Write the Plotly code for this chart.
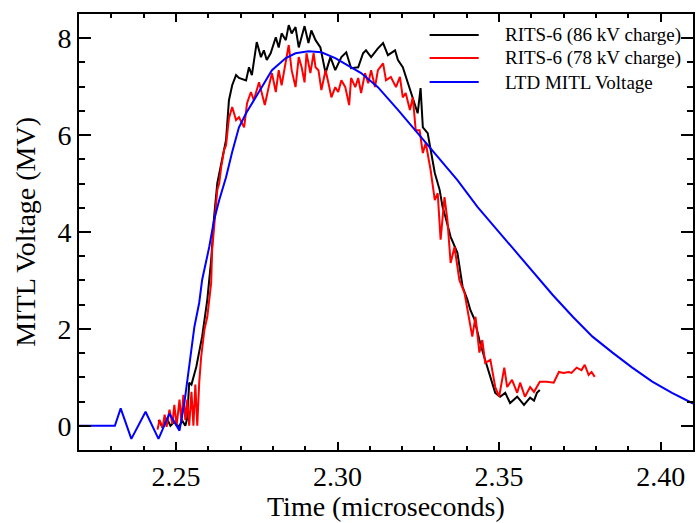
import plotly.graph_objects as go

# ---- RITS-6, 86 kV charge (time in microseconds, voltage in MV) ----
rits86_t = [2.2446, 2.2459, 2.2471, 2.2483, 2.2495, 2.2508, 2.2520, 2.2529, 2.2535,
            2.2541, 2.2548, 2.2563, 2.2581, 2.2597, 2.2609, 2.2618, 2.2628, 2.2640,
            2.2655, 2.2664, 2.2674, 2.2686, 2.2695, 2.2717, 2.2726, 2.2735, 2.2750,
            2.2763, 2.2772, 2.2781, 2.2793, 2.2809, 2.2818, 2.2827, 2.2840, 2.2849,
            2.2858, 2.2870, 2.2880, 2.2898, 2.2910, 2.2919, 2.2932, 2.2947, 2.2963,
            2.2978, 2.2993, 2.3012, 2.3027, 2.3042, 2.3064, 2.3079, 2.3088, 2.3104,
            2.3125, 2.3141, 2.3156, 2.3178, 2.3187, 2.3202, 2.3218, 2.3227, 2.3239,
            2.3248, 2.3257, 2.3264, 2.3279, 2.3288, 2.3301, 2.3316, 2.3325, 2.3334,
            2.3350, 2.3371, 2.3387, 2.3402, 2.3411, 2.3424, 2.3439, 2.3454, 2.3473,
            2.3488, 2.3503, 2.3519, 2.3534, 2.3556, 2.3577, 2.3596, 2.3608, 2.3617,
            2.3626]
rits86_v = [0.12, -0.04, 0.16, 0.00, 0.08, -0.02, 0.10, 0.00, 0.16,
            0.89, 0.85, 1.22, 1.84, 2.60, 3.42, 4.31, 5.01, 5.44,
            5.90, 6.72, 7.03, 7.24, 7.18, 7.13, 7.40, 7.24, 7.92,
            7.61, 7.75, 7.55, 7.69, 8.02, 7.81, 8.10, 7.96, 8.27,
            8.10, 8.23, 7.81, 8.25, 7.90, 8.16, 7.96, 7.81, 7.28,
            7.61, 7.34, 7.61, 7.71, 7.38, 7.40, 7.69, 7.75, 7.61,
            7.79, 7.90, 7.65, 7.75, 7.55, 7.40, 7.07, 6.93, 6.66,
            6.45, 6.97, 6.16, 6.04, 5.69, 5.22, 4.87, 4.52, 4.31,
            3.90, 3.57, 2.87, 2.60, 2.39, 2.19, 1.77, 1.42, 1.01,
            0.68, 0.60, 0.68, 0.47, 0.60, 0.43, 0.58, 0.52, 0.68,
            0.74]

# ---- RITS-6, 78 kV charge ----
rits78_t = [2.2443, 2.2449, 2.2459, 2.2465, 2.2471, 2.2480, 2.2489, 2.2495, 2.2502,
            2.2511, 2.2517, 2.2523, 2.2529, 2.2535, 2.2541, 2.2548, 2.2554, 2.2560,
            2.2566, 2.2572, 2.2578, 2.2588, 2.2597, 2.2609, 2.2612, 2.2621, 2.2628,
            2.2634, 2.2640, 2.2649, 2.2655, 2.2664, 2.2674, 2.2686, 2.2695, 2.2711,
            2.2720, 2.2732, 2.2741, 2.2757, 2.2775, 2.2787, 2.2797, 2.2809, 2.2818,
            2.2827, 2.2840, 2.2849, 2.2858, 2.2870, 2.2880, 2.2889, 2.2898, 2.2904,
            2.2916, 2.2926, 2.2932, 2.2941, 2.2950, 2.2963, 2.2972, 2.2981, 2.2993,
            2.3002, 2.3012, 2.3024, 2.3036, 2.3042, 2.3055, 2.3064, 2.3073, 2.3085,
            2.3095, 2.3104, 2.3116, 2.3125, 2.3141, 2.3150, 2.3165, 2.3181, 2.3193,
            2.3202, 2.3211, 2.3224, 2.3233, 2.3242, 2.3254, 2.3264, 2.3273, 2.3288,
            2.3301, 2.3310, 2.3319, 2.3331, 2.3340, 2.3350, 2.3362, 2.3377, 2.3393,
            2.3408, 2.3417, 2.3427, 2.3439, 2.3448, 2.3457, 2.3473, 2.3488, 2.3500,
            2.3516, 2.3525, 2.3540, 2.3556, 2.3565, 2.3580, 2.3596, 2.3608, 2.3626,
            2.3648, 2.3669, 2.3685, 2.3700, 2.3715, 2.3724, 2.3740, 2.3755, 2.3765,
            2.3777, 2.3786, 2.3796]
rits78_v = [-0.08, 0.12, -0.04, 0.23, -0.02, 0.33, 0.04, 0.43, 0.00,
            0.54, 0.08, 0.64, 0.12, 0.54, 0.00, 0.70, 0.00, 0.85,
            0.00, 0.89, 1.42, 1.98, 2.25, 2.95, 3.63, 4.35, 4.87,
            5.01, 5.34, 5.69, 5.79, 6.35, 6.58, 6.31, 6.37, 6.16,
            6.66, 6.89, 6.72, 7.09, 6.62, 6.99, 7.28, 6.89, 7.34,
            7.03, 7.55, 7.86, 7.34, 6.99, 7.61, 7.40, 7.09, 7.69,
            7.28, 7.69, 7.40, 7.34, 6.93, 7.34, 7.07, 6.78, 6.99,
            6.89, 7.13, 6.99, 6.62, 7.18, 6.99, 7.18, 6.87, 7.28,
            7.07, 7.34, 6.99, 7.34, 7.48, 7.13, 7.20, 6.99, 7.20,
            6.78, 6.87, 6.52, 6.78, 6.10, 6.10, 5.63, 5.84, 5.28,
            4.66, 4.80, 3.84, 4.72, 4.25, 3.36, 3.69, 3.01, 2.74,
            2.19, 1.84, 2.25, 1.51, 1.77, 1.30, 1.36, 0.80, 0.60,
            1.20, 0.80, 0.95, 0.68, 0.89, 0.60, 0.80, 0.70, 0.91,
            0.91, 0.89, 1.11, 1.09, 1.11, 1.09, 1.20, 1.15, 1.26,
            1.05, 1.11, 1.01]

# ---- LTD MITL voltage (simulation) ----
ltd_t = [2.2200, 2.2311, 2.2329, 2.2362, 2.2406, 2.2446, 2.2480, 2.2511, 2.2526,
         2.2541, 2.2557, 2.2572, 2.2581, 2.2603, 2.2618, 2.2634, 2.2655, 2.2674,
         2.2695, 2.2717, 2.2757, 2.2797, 2.2840, 2.2870, 2.2910, 2.2950, 2.2993,
         2.3033, 2.3073, 2.3125, 2.3156, 2.3187, 2.3248, 2.3310, 2.3371, 2.3433,
         2.3494, 2.3556, 2.3617, 2.3666, 2.3728, 2.3789, 2.3851, 2.3912, 2.3974,
         2.4035, 2.4100]
ltd_v = [0.00, 0.00, 0.36, -0.27, 0.29, -0.27, 0.25, -0.10, 0.47,
         1.22, 2.04, 2.54, 3.01, 3.69, 4.25, 4.66, 5.13, 5.65,
         6.16, 6.45, 6.90, 7.34, 7.59, 7.69, 7.73, 7.71, 7.59,
         7.44, 7.28, 6.99, 6.76, 6.52, 6.04, 5.55, 5.07, 4.52,
         4.04, 3.57, 3.07, 2.70, 2.25, 1.84, 1.51, 1.20, 0.91,
         0.68, 0.46]

series_names = ["RITS-6 (86 kV charge)", "RITS-6 (78 kV charge)", "LTD MITL Voltage"]
series_colors = ["#000000", "#ff0000", "#0000ff"]

x_ticks = [2.25, 2.30, 2.35, 2.40]
x_tick_text = ["2.25", "2.30", "2.35", "2.40"]
y_ticks = [0, 2, 4, 6, 8]

FONT = "Liberation Serif, Times New Roman, serif"

fig = go.Figure()
for t, v, name, col in zip([rits86_t, rits78_t, ltd_t],
                           [rits86_v, rits78_v, ltd_v],
                           series_names, series_colors):
    fig.add_trace(go.Scatter(x=t, y=v, mode="lines", name=name,
                             line=dict(color=col, width=2), showlegend=False))

# Legend drawn as sample lines plus labels in the upper right of the plot
leg_rows = [0.952, 0.899, 0.844]
for name, col, yy in zip(series_names, series_colors, leg_rows):
    fig.add_shape(type="line", xref="paper", yref="paper",
                  x0=0.571, x1=0.651, y0=yy, y1=yy,
                  line=dict(color=col, width=2))
    fig.add_annotation(xref="paper", yref="paper", x=0.691, y=yy,
                       xanchor="left", yanchor="middle", showarrow=False,
                       text=name, font=dict(family=FONT, size=19, color="black"))

# Axis titles
fig.add_annotation(xref="paper", yref="paper", x=0.5, y=-0.1290,
                   xanchor="center", yanchor="middle", showarrow=False,
                   text="Time (microseconds)",
                   font=dict(family=FONT, size=28, color="black"))
fig.add_annotation(xref="paper", yref="paper", x=-0.0885, y=0.5,
                   xanchor="center", yanchor="middle", showarrow=False,
                   textangle=-90, text="MITL Voltage (MV)",
                   font=dict(family=FONT, size=28, color="black"))

axis_common = dict(showline=True, linecolor="black", linewidth=2, mirror="allticks",
                   ticks="inside", tickcolor="black", tickwidth=2,
                   showgrid=False, zeroline=False,
                   tickfont=dict(family=FONT, size=28, color="black"))

fig.update_xaxes(range=[2.22, 2.41], tickvals=x_ticks, ticktext=x_tick_text,
                 ticklen=8,
                 minor=dict(dtick=0.01, tick0=2.20, ticks="inside", ticklen=4,
                            tickwidth=2, tickcolor="black", showgrid=False),
                 **axis_common)
fig.update_yaxes(range=[-0.5, 8.5], tickvals=y_ticks, ticklen=12,
                 minor=dict(dtick=0.5, tick0=0, ticks="inside", ticklen=6,
                            tickwidth=2, tickcolor="black", showgrid=False),
                 **axis_common)

fig.update_layout(width=696, height=523,
                  margin=dict(l=79, r=1, t=14, b=73),
                  plot_bgcolor="white", paper_bgcolor="white",
                  font=dict(family=FONT, color="black"))

fig.write_html("out.html")
